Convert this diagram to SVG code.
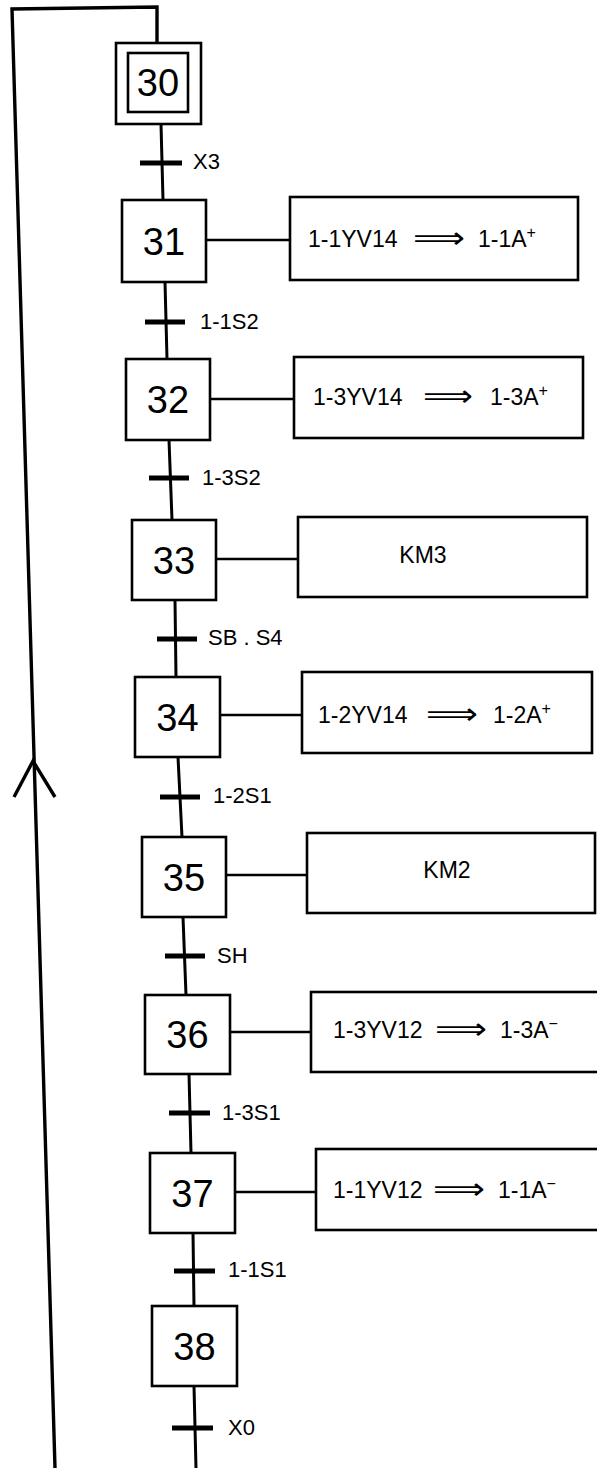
<svg xmlns="http://www.w3.org/2000/svg" width="597" height="1468" viewBox="0 0 597 1468">
<style>
.box{fill:#fff;stroke:#000;stroke-width:2.6}
.ln{fill:none;stroke:#000;stroke-width:2.6}
.bar{stroke:#000;stroke-width:5}
.num{font-family:"Liberation Sans",Arial,sans-serif;font-size:38px;text-anchor:middle;fill:#000}
.lbl{font-family:"Liberation Sans",Arial,sans-serif;font-size:22px;fill:#000}
.act{font-family:"Liberation Sans",Arial,sans-serif;font-size:23px;fill:#000}
.arr{font-family:"DejaVu Sans",sans-serif;font-size:30px;fill:#000}
.sup{font-size:16px}
</style>
<rect width="597" height="1468" fill="#fff"/>
<g id="connectors">
<path class="ln" style="stroke-width:3.4" d="M157,43 L157,7 L12,9 L55,1468"/>
<path class="ln" style="stroke-width:3.4" d="M14,797 L33,761 L55,797"/>
<path class="ln" style="stroke-width:3" d="M161,124 L163,200 M165,282 L167,359 M169,440 L172,520 M175,600 L176,677 M178,757 L182,837 M183,917 L186,995 M189,1074 L191,1153 M193,1233 L194,1306 M194,1386 L196,1468"/>
<path class="ln" d="M206,240 L290,240 M210,399 L294,399 M216,559 L298,559 M220,715 L302,715 M226,875 L307,875 M230,1032 L311,1032 M235,1192 L316,1192"/>
</g>
<g id="t30"><line class="bar" x1="140" y1="163" x2="182" y2="163"/><text class="lbl" x="193" y="169">X3</text></g>
<g id="t31"><line class="bar" x1="145" y1="322" x2="185" y2="322"/><text class="lbl" x="200" y="329">1-1S2</text></g>
<g id="t32"><line class="bar" x1="149" y1="478" x2="189" y2="478"/><text class="lbl" x="202" y="485">1-3S2</text></g>
<g id="t33"><line class="bar" x1="157" y1="639" x2="197" y2="639"/><text class="lbl" x="208" y="645">SB . S4</text></g>
<g id="t34"><line class="bar" x1="160" y1="797" x2="200" y2="797"/><text class="lbl" x="213" y="803">1-2S1</text></g>
<g id="t35"><line class="bar" x1="165" y1="956" x2="205" y2="956"/><text class="lbl" x="217" y="963">SH</text></g>
<g id="t36"><line class="bar" x1="169" y1="1113" x2="210" y2="1113"/><text class="lbl" x="222" y="1120">1-3S1</text></g>
<g id="t37"><line class="bar" x1="174" y1="1271" x2="215" y2="1271"/><text class="lbl" x="228" y="1277">1-1S1</text></g>
<g id="t38"><line class="bar" x1="172" y1="1428" x2="213" y2="1428"/><text class="lbl" x="228" y="1435">X0</text></g>
<g id="s30"><rect class="box" x="116" y="43" width="85" height="81"/><rect class="box" x="128" y="53" width="60" height="59"/><text class="num" x="158" y="96">30</text></g>
<g id="s31"><rect class="box" x="122" y="200" width="84" height="82"/><text class="num" x="164" y="255">31</text></g>
<g id="s32"><rect class="box" x="126" y="359" width="84" height="81"/><text class="num" x="168" y="413">32</text></g>
<g id="s33"><rect class="box" x="132" y="520" width="84" height="80"/><text class="num" x="174" y="574">33</text></g>
<g id="s34"><rect class="box" x="135" y="677" width="85" height="80"/><text class="num" x="177.5" y="731">34</text></g>
<g id="s35"><rect class="box" x="142" y="837" width="84" height="80"/><text class="num" x="184" y="891">35</text></g>
<g id="s36"><rect class="box" x="145" y="995" width="85" height="79"/><text class="num" x="187.5" y="1048">36</text></g>
<g id="s37"><rect class="box" x="150" y="1153" width="85" height="80"/><text class="num" x="192.5" y="1207">37</text></g>
<g id="s38"><rect class="box" x="152" y="1306" width="85" height="80"/><text class="num" x="194.5" y="1360">38</text></g>
<g id="a31"><rect class="box" x="290" y="197" width="288" height="83"/><text class="act" x="308" y="247">1-1YV14</text><text class="arr" x="413" y="248" textLength="52" lengthAdjust="spacingAndGlyphs">⟹</text><text class="act" x="478" y="247">1-1A<tspan class="sup" dy="-9">+</tspan></text></g>
<g id="a32"><rect class="box" x="294" y="357" width="289" height="81"/><text class="act" x="313" y="405">1-3YV14</text><text class="arr" x="423" y="406" textLength="50" lengthAdjust="spacingAndGlyphs">⟹</text><text class="act" x="490" y="405">1-3A<tspan class="sup" dy="-9">+</tspan></text></g>
<g id="a33"><rect class="box" x="298" y="517" width="289" height="80"/><text class="act" x="423" y="563" text-anchor="middle">KM3</text></g>
<g id="a34"><rect class="box" x="302" y="672" width="290" height="81"/><text class="act" x="318" y="723">1-2YV14</text><text class="arr" x="426" y="724" textLength="52" lengthAdjust="spacingAndGlyphs">⟹</text><text class="act" x="493" y="723">1-2A<tspan class="sup" dy="-9">+</tspan></text></g>
<g id="a35"><rect class="box" x="307" y="833" width="288" height="80"/><text class="act" x="447" y="878" text-anchor="middle">KM2</text></g>
<g id="a36"><rect class="box" x="311" y="992" width="300" height="80"/><text class="act" x="333" y="1038">1-3YV12</text><text class="arr" x="435" y="1039" textLength="52" lengthAdjust="spacingAndGlyphs">⟹</text><text class="act" x="500" y="1038">1-3A<tspan class="sup" dy="-9">−</tspan></text></g>
<g id="a37"><rect class="box" x="316" y="1149" width="300" height="81"/><text class="act" x="333" y="1198">1-1YV12</text><text class="arr" x="433" y="1199" textLength="52" lengthAdjust="spacingAndGlyphs">⟹</text><text class="act" x="498" y="1198">1-1A<tspan class="sup" dy="-9">−</tspan></text></g>
</svg>
